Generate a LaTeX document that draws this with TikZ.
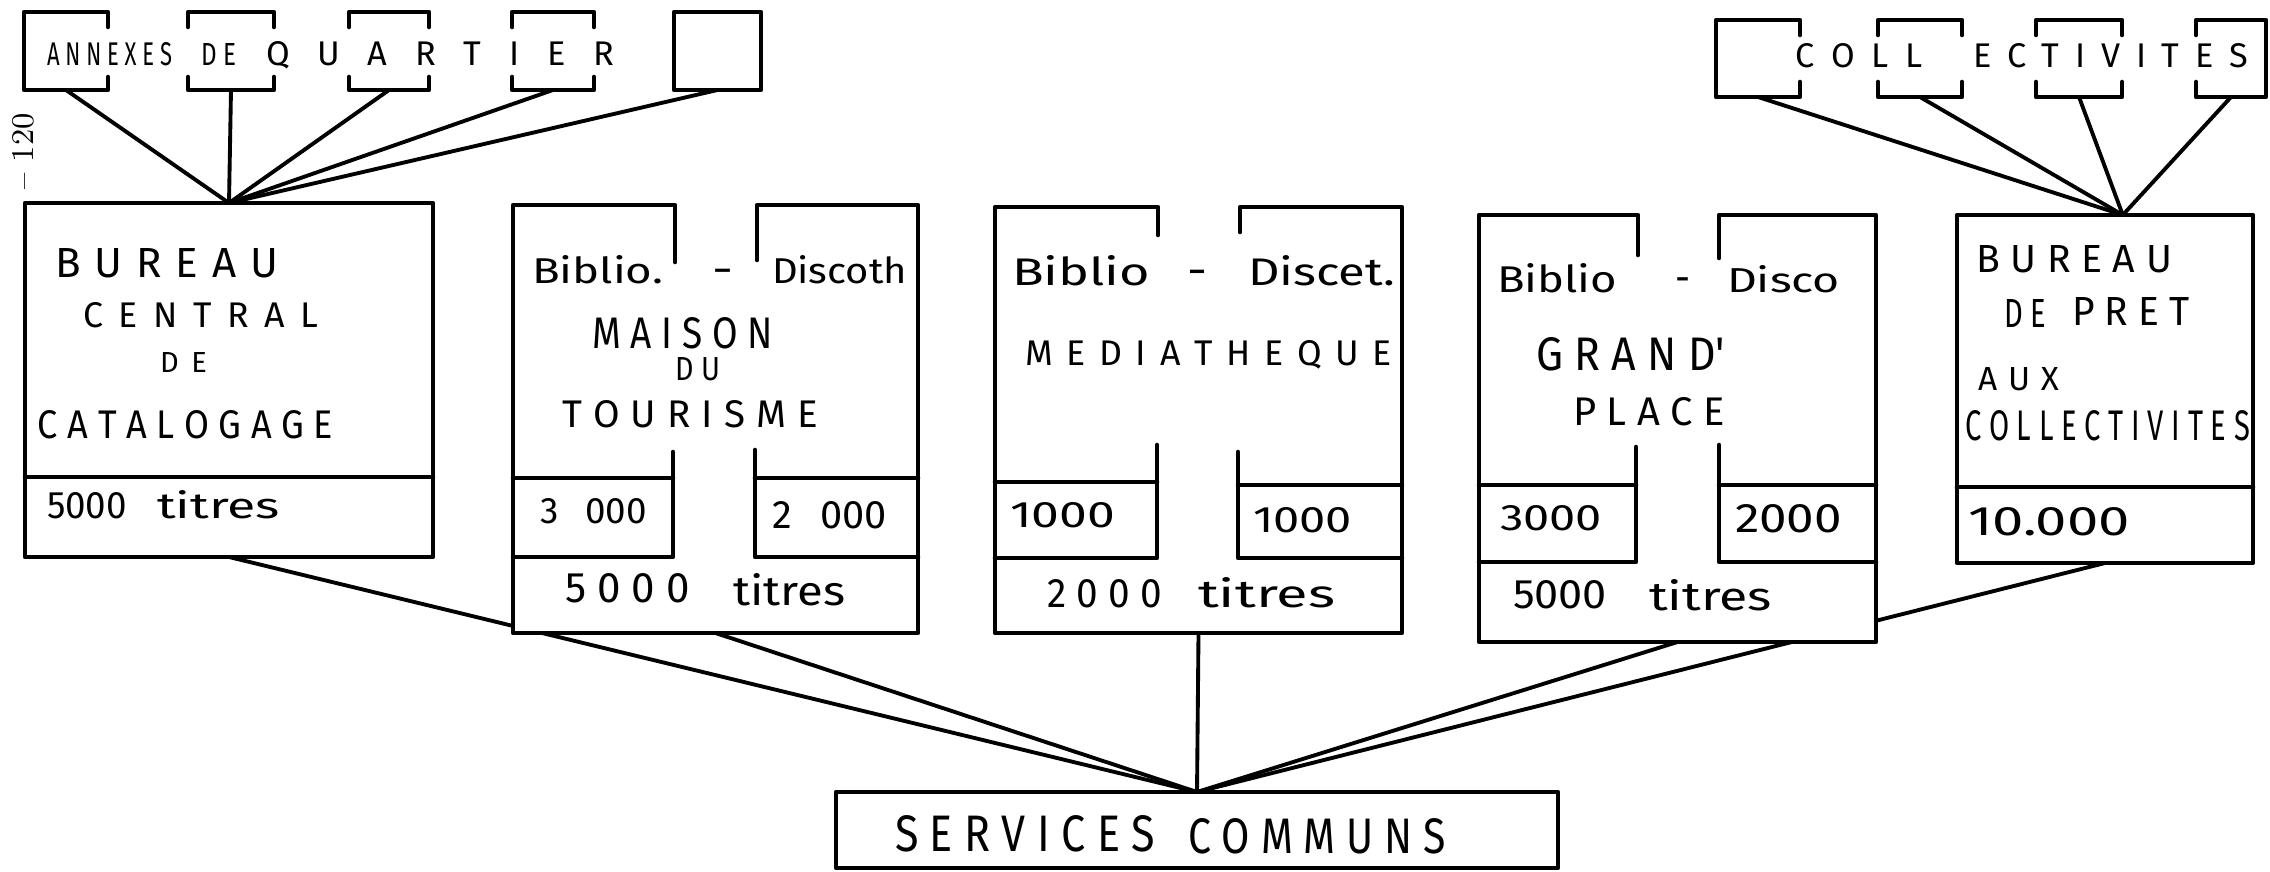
\documentclass[tikz,border=0pt]{standalone}
\usepackage{fontspec}
\usepackage{graphicx}
\usetikzlibrary{fit,calc}
\newfontfamily\hand{Fira Sans}
\newlength\px
\setlength\px{0.1mm}
% resized text: exact width and height
\newcommand\hr[3]{\resizebox{#1\px}{#2\px}{\hand #3}}
% spaced text: font size from height, letters spread evenly to width
\newcommand\hs[3]{%
  \sbox0{\hand\fontsize{10}{12}\selectfont #3}%
  \edef\hht{\the\ht0}%
  \pgfmathsetmacro\hfs{2.845274*#2/\hht}%
  \sbox2{\hand\fontsize{\hfs}{\hfs}\selectfont\spaceskip=0pt\xspaceskip=0pt\relax #3}%
  \ifdim\wd2>#1\px
    \resizebox{#1\px}{\height}{\usebox2}%
  \else
    \makebox[#1\px][s]{\hand\fontsize{\hfs}{\hfs}\selectfont
      \spaceskip=0pt plus 1fil\xspaceskip=0pt plus 1fil\relax #3}%
  \fi}
\begin{document}
\begin{tikzpicture}[x=0.1mm,y=-0.1mm,
  frame/.style={line width=1.3pt,line cap=round,line join=round},
  conn/.style={line width=1.1pt,line cap=round},
  area/.style={inner sep=0pt,outer sep=0pt},
  txt/.style={anchor=base west,inner sep=0pt,outer sep=0pt}]
\useasboundingbox (0,0) rectangle (2270,871);

% ---------- named areas ----------
\node[area,fit={(24,12)(108,90)}] (a1) {};
\node[area,fit={(188,12)(274,90)}] (a2) {};
\node[area,fit={(349,12)(429,90)}] (a3) {};
\node[area,fit={(512,12)(594,90)}] (a4) {};
\node[area,fit={(674,12)(761,90)}] (a5) {};
\node[area,fit={(1716,20)(1800,97)}] (c1) {};
\node[area,fit={(1878,20)(1962,97)}] (c2) {};
\node[area,fit={(2036,20)(2122,97)}] (c3) {};
\node[area,fit={(2196,20)(2266,97)}] (c4) {};
\node[area,fit={(25,203)(433,557)}] (bc) {};
\node[area,fit={(513,205)(918,633)}] (mt) {};
\node[area,fit={(995,207)(1402,633)}] (md) {};
\node[area,fit={(1479,215)(1876,642)}] (gp) {};
\node[area,fit={(1957,215)(2253,563)}] (bp) {};
\node[area,fit={(836,792)(1558,868)}] (sc) {};
\coordinate (bpin) at ($(bp.north west)!0.56!(bp.north east)$);

% ---------- connectors ----------
\foreach \n in {a1,a2,a3,a4,a5} \draw[conn] (\n.south) -- (bc.north);
\foreach \n in {c1,c2,c3,c4} \draw[conn] (\n.south) -- (bpin);
\foreach \n in {bc,mt,md,gp,bp} \draw[conn] (\n.south) -- (sc.north);

% ---------- white backgrounds ----------
\foreach \n in {bc,mt,md,gp,bp,sc} \fill[white] (\n.north west) rectangle (\n.south east);

% ---------- annexes de quartier ----------
\draw[frame] (108,27) -- (108,12) -- (24,12) -- (24,90) -- (108,90) -- (108,77);
\foreach \l/\r in {188/274,349/429,512/594}{
  \draw[frame] (\l,27) -- (\l,12) -- (\r,12) -- (\r,27);
  \draw[frame] (\l,77) -- (\l,90) -- (\r,90) -- (\r,77);
}
\draw[frame] (674,12) rectangle (761,90);

% ---------- collectivites ----------
\draw[frame] (1800,35) -- (1800,20) -- (1716,20) -- (1716,97) -- (1800,97) -- (1800,82);
\foreach \l/\r in {1878/1962,2036/2122}{
  \draw[frame] (\l,35) -- (\l,20) -- (\r,20) -- (\r,35);
  \draw[frame] (\l,82) -- (\l,97) -- (\r,97) -- (\r,82);
}
\draw[frame] (2196,35) -- (2196,20) -- (2266,20) -- (2266,97) -- (2196,97) -- (2196,82);

% ---------- bureau central ----------
\draw[frame] (bc.north west) rectangle (bc.south east);
\draw[frame] (25,477) -- (433,477);

% ---------- maison du tourisme ----------
\draw[frame] (675,262) -- (675,205) -- (513,205) -- (513,633) -- (918,633) -- (918,205) -- (757,205) -- (757,260);
\draw[frame] (673,452) -- (673,557) -- (513,557);
\draw[frame] (755,450) -- (755,557) -- (918,557);
\draw[frame] (513,478) -- (673,478);
\draw[frame] (755,478) -- (918,478);

% ---------- mediatheque ----------
\draw[frame] (1158,235) -- (1158,207) -- (995,207) -- (995,633) -- (1402,633) -- (1402,207) -- (1240,207) -- (1240,232);
\draw[frame] (1157,445) -- (1157,558) -- (995,558);
\draw[frame] (1238,452) -- (1238,558) -- (1402,558);
\draw[frame] (995,482) -- (1157,482);
\draw[frame] (1238,485) -- (1402,485);

% ---------- grand place ----------
\draw[frame] (1638,255) -- (1638,215) -- (1479,215) -- (1479,642) -- (1876,642) -- (1876,215) -- (1719,215) -- (1719,258);
\draw[frame] (1636,447) -- (1636,562) -- (1479,562);
\draw[frame] (1719,445) -- (1719,562) -- (1876,562);
\draw[frame] (1479,485) -- (1636,485);
\draw[frame] (1719,485) -- (1876,485);

% ---------- bureau de pret ----------
\draw[frame] (bp.north west) rectangle (bp.south east);
\draw[frame] (1957,487) -- (2253,487);

% ---------- services communs ----------
\draw[frame] (sc.north west) rectangle (sc.south east);

% ---------- texts ----------
\node[txt] (tA1) at (47,65) {\hs{125}{23}{A N N E X E S}};
\node[txt] (tA2) at (201,65) {\hs{35}{22}{D E}};
\node[txt] (tA3) at (266,65) {\hs{348}{24}{Q U A R T I E R}};
\node[txt] (tC1) at (1795,67) {\hs{128}{24}{C O L L}};
\node[txt] (tC2) at (1973,67) {\hs{275}{24}{E C T I V I T E S}};

\node[txt] (tb1) at (55,277) {\hs{223}{29}{B U R E A U}};
\node[txt] (tb2) at (83,327) {\hs{235}{25}{C E N T R A L}};
\node[txt] (tb3) at (160,372) {\hs{47}{20}{D E}};
\node[txt] (tb4) at (38,438) {\hs{295}{28}{C A T A L O G A G E}};
\node[txt] (tb5) at (47,518) {\hr{80}{26}{5000}};
\node[txt] (tb6) at (157,518) {\hr{123}{28}{titres}};

\node[txt] (tm1) at (532,283) {\hr{131}{28}{Biblio.}};
\node[txt] (tm2) at (712,283) {\hr{21}{28}{\vphantom{B}-}};
\node[txt] (tm3) at (772,283) {\hr{135}{28}{Discoth}};
\node[txt] (tm4) at (592,348) {\hs{181}{31}{M A I S O N}};
\node[txt] (tm5) at (675,380) {\hs{45}{23}{D U}};
\node[txt] (tm6) at (562,427) {\hs{256}{27}{T O U R I S M E}};
\node[txt] (tm7) at (540,523) {\hs{107}{25}{3 000}};
\node[txt] (tm8) at (772,528) {\hs{115}{27}{2 000}};
\node[txt] (tm9) at (565,602) {\hs{125}{29}{5 0 0 0}};
\node[txt] (tm10) at (733,605) {\hr{112}{32}{titres}};

\node[txt] (td1) at (1012,285) {\hr{138}{30}{Biblio}};
\node[txt] (td2) at (1187,285) {\hr{20}{30}{\vphantom{B}-}};
\node[txt] (td3) at (1248,285) {\hr{147}{30}{Discet.}};
\node[txt] (td4) at (1025,365) {\hs{367}{25}{M E D I A T H E Q U E}};
\node[txt] (td5) at (1010,527) {\hr{105}{25}{1000}};
\node[txt] (td6) at (1253,532) {\hr{99}{25}{1000}};
\node[txt] (td7) at (1047,607) {\hs{115}{28}{2 0 0 0}};
\node[txt] (td8) at (1198,607) {\hr{137}{30}{titres}};

\node[txt] (tg1) at (1497,292) {\hr{120}{29}{Biblio}};
\node[txt] (tg2) at (1675,292) {\hr{15}{29}{\vphantom{B}-}};
\node[txt] (tg3) at (1727,292) {\hr{113}{27}{Disco}};
\node[txt] (tg4) at (1536,370) {\hs{189}{33}{G R A N D'}};
\node[txt] (tg5) at (1573,425) {\hs{152}{28}{P L A C E}};
\node[txt] (tg6) at (1500,530) {\hr{102}{25}{3000}};
\node[txt] (tg7) at (1735,532) {\hr{107}{28}{2000}};
\node[txt] (tg8) at (1513,608) {\hr{94}{28}{5000}};
\node[txt] (tg9) at (1649,610) {\hr{123}{31}{titres}};

\node[txt] (tp1) at (1976,272) {\hs{196}{27}{B U R E A U}};
\node[txt] (tp2) at (2004,327) {\hs{42}{28}{D E}};
\node[txt] (tp3) at (2072,325) {\hs{118}{28}{P R E T}};
\node[txt] (tp4) at (1978,390) {\hs{81}{23}{A U X}};
\node[txt] (tp5) at (1965,440) {\hs{285}{30}{C O L L E C T I V I T E S}};
\node[txt] (tp6) at (1968,535) {\hr{162}{28}{10.000}};

\node[txt] (ts1) at (895,851) {\hs{260}{36}{S E R V I C E S}};
\node[txt] (ts2) at (1188,853) {\hs{258}{35}{C O M M U N S}};

\node[rotate=90,anchor=base west,inner sep=0pt] (pg) at (33,190) {\fontsize{9}{10}\selectfont -- 120};
\end{tikzpicture}
\end{document}
